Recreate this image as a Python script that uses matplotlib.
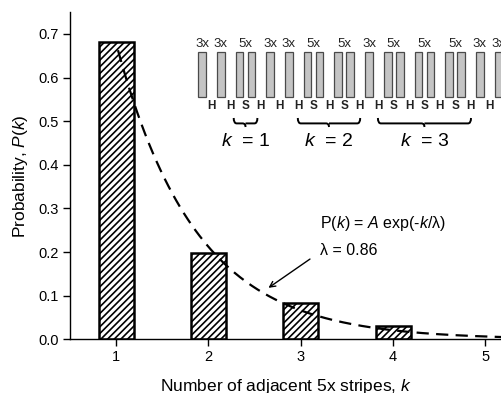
import numpy as np
import matplotlib
matplotlib.use('Agg')
import matplotlib.pyplot as plt
from matplotlib.patches import Rectangle
from matplotlib.path import Path
from matplotlib.patches import PathPatch

plt.rcParams['font.family'] = ['Liberation Sans', 'DejaVu Sans']
plt.rcParams['mathtext.fontset'] = 'custom'
plt.rcParams['mathtext.rm'] = 'Liberation Sans'
plt.rcParams['mathtext.it'] = 'Liberation Sans:italic'
plt.rcParams['hatch.linewidth'] = 1.2

# probability of k adjacent 5x stripes
k_vals = [1, 2, 3, 4]
prob = [0.682, 0.199, 0.084, 0.030]

# exponential fit
lam = 0.86
A = 2.17

# stripe sequence for the schematic (one entry per stripe) and the gap after each
stripe_type = ['3x', '3x', '5x', '5x', '3x', '3x', '5x', '5x', '5x', '5x',
               '3x', '5x', '5x', '5x', '5x', '5x', '5x', '3x', '3x']
gap_label = ['H', 'H', 'S', 'H', 'H', 'H', 'S', 'H', 'S', 'H',
             'H', 'S', 'H', 'S', 'H', 'S', 'H', 'H']
# runs of 5x stripes: (first stripe, last stripe, k)
runs = [(2, 3, 1), (6, 9, 2), (11, 16, 3)]

fig = plt.figure(figsize=(5.02, 3.93), dpi=100)
ax = fig.add_axes([0.1394, 0.1366, 0.8606, 0.8325])

ax.bar(k_vals, prob, width=0.38, color='white', edgecolor='black',
       linewidth=1.8, hatch='/////', zorder=2)

kk = np.linspace(1.02, 5.2, 200)
ax.plot(kk, A * np.exp(-kk / lam), color='black', lw=1.6,
        dashes=(5.5, 3.3), zorder=3)

ax.set_xlim(0.5, 5.18)
ax.set_ylim(0, 0.75)
ax.set_xticks([1, 2, 3, 4, 5])
ax.set_yticks(np.arange(0, 0.71, 0.1))
ax.yaxis.set_major_formatter(plt.FormatStrFormatter('%.1f'))
ax.tick_params(direction='out', length=5, width=1, labelsize=10.5, pad=3)
for s in ['top', 'right']:
    ax.spines[s].set_visible(False)
ax.spines['left'].set_linewidth(1)
ax.spines['bottom'].set_linewidth(1)
ax.set_xlabel('Number of adjacent 5x stripes, $k$', fontsize=12.5, labelpad=9)
ax.set_ylabel('Probability, $P(k)$', fontsize=12.5, labelpad=6)

ax.annotate('', xy=(2.65, 0.118), xytext=(3.1, 0.184),
            arrowprops=dict(arrowstyle='->', color='black', lw=1,
                            shrinkA=0, shrinkB=0))
ax.text(3.21, 0.265, '$\\mathrm{P}(k)$ = $A$ exp(-$k$/\u03bb)', fontsize=11.5,
        va='center', ha='left')
ax.text(3.21, 0.204, '\u03bb = 0.86', fontsize=11.5, va='center', ha='left')

# schematic of stripes, drawn in pixel coordinates
ov = fig.add_axes([0, 0, 1, 1], zorder=5)
ov.set_xlim(0, 502)
ov.set_ylim(393, 0)
ov.axis('off')
ov.patch.set_alpha(0)

sw = 7.7
xs = [198.3]
for g in gap_label:
    xs.append(xs[-1] + sw + (11 if g == 'H' else 4.3))

for x in xs:
    ov.add_patch(Rectangle((x, 52), sw, 45, facecolor='#c4c4c4',
                           edgecolor='#4a4a4a', lw=0.9))

i = 0
while i < len(stripe_type):
    if stripe_type[i] == '5x':
        cx = (xs[i] + xs[i + 1] + sw) / 2
        i += 2
    else:
        cx = xs[i] + sw / 2
        i += 1
    ov.text(cx, 44, stripe_type[i - 1], fontsize=9.5, ha='center',
            va='center', color='#222222')

for j, g in enumerate(gap_label):
    cx = (xs[j] + sw + xs[j + 1]) / 2
    ov.text(cx, 106, g, fontsize=8.5, fontweight='bold', ha='center',
            va='center', color='#222222')


def brace(x0, x1, y0, h):
    xm = (x0 + x1) / 2
    verts = [(x0, y0), (x0, y0 + h * 0.6), (x0 + 3, y0 + h * 0.6),
             (xm - 3, y0 + h * 0.6), (xm, y0 + h * 0.6), (xm, y0 + h),
             (xm, y0 + h * 0.6), (xm + 3, y0 + h * 0.6),
             (x1 - 3, y0 + h * 0.6), (x1, y0 + h * 0.6), (x1, y0)]
    codes = [Path.MOVETO, Path.CURVE3, Path.CURVE3, Path.LINETO,
             Path.CURVE3, Path.CURVE3, Path.MOVETO, Path.CURVE3, Path.LINETO,
             Path.CURVE3, Path.CURVE3]
    ov.add_patch(PathPatch(Path(verts, codes), facecolor='none',
                           edgecolor='black', lw=1.4))


for a, b, k in runs:
    pad = 2 if k == 1 else 6
    x0 = xs[a] - pad
    x1 = xs[b] + sw + pad
    brace(x0, x1, 118, 9)
    ov.text((x0 + x1) / 2, 142, '$k$  = %d' % k, fontsize=14, ha='center',
            va='center')

fig.savefig('out.png', dpi=100)
